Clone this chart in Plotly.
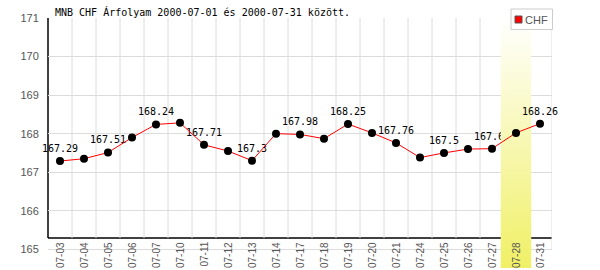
import plotly.graph_objects as go

# ---- data ----
dates = ['07-03', '07-04', '07-05', '07-06', '07-07', '07-10', '07-11', '07-12',
         '07-13', '07-14', '07-17', '07-18', '07-19', '07-20', '07-21', '07-24',
         '07-25', '07-26', '07-27', '07-28', '07-31']
values = [167.29, 167.35, 167.51, 167.90, 168.24, 168.28, 167.71, 167.55,
          167.30, 168.00, 167.98, 167.87, 168.25, 168.02, 167.76, 167.38,
          167.50, 167.60, 167.61, 168.02, 168.26]
y_ticks = [165, 166, 167, 168, 169, 170, 171]
highlight_date = '07-28'
series_name = 'CHF'
title_text = 'MNB CHF Árfolyam 2000-07-01 és 2000-07-31 között.'

# ---- layout constants ----
W, H = 600, 270
ML, MR, MT, MB = 48, 48, 18, 2
plot_h = H - MT - MB
px_per_unit = 38.55
y_top = max(y_ticks)
y_bot = y_top - plot_h / px_per_unit
axis_y = y_top - (238 - MT) / px_per_unit

GRID = '#dcdcdc'
TICK_COL = '#555555'
SANS = 'Liberation Sans'
MONO = 'DejaVu Sans Mono'

x = list(range(len(dates)))
hi = dates.index(highlight_date)
half = 0.635

fig = go.Figure()


def label_trace(idx):
    return go.Scatter(
        x=[x[i] for i in idx], y=[values[i] for i in idx],
        text=['%g' % values[i] for i in idx],
        mode='markers+text', textposition='top center',
        marker=dict(size=9, opacity=0),
        textfont=dict(family=MONO, size=10, color='black'),
        cliponaxis=False, hoverinfo='skip', showlegend=False)


lab_idx = list(range(0, len(dates), 2))
# labels left of the highlight band are drawn beneath it
fig.add_trace(label_trace([i for i in lab_idx if i < hi]))

# highlight band
fig.add_trace(go.Scatter(
    x=[hi - half, hi + half, hi + half, hi - half, hi - half],
    y=[y_bot, y_bot, y_top, y_top, y_bot],
    mode='none', fill='toself',
    fillgradient=dict(type='vertical',
                      colorscale=[[0, '#f0f066'], [1, '#ffffff']]),
    hoverinfo='skip', showlegend=False))

# labels right of the band are drawn over it
fig.add_trace(label_trace([i for i in lab_idx if i >= hi]))

# series
fig.add_trace(go.Scatter(
    x=x, y=values, mode='lines+markers', name=series_name,
    line=dict(color='red', width=1),
    marker=dict(color='black', size=8),
    hoverinfo='skip', showlegend=False))

shapes = []
for i in range(len(dates) - 1):
    shapes.append(dict(type='line', xref='x', yref='y', x0=i + 0.5, x1=i + 0.5,
                       y0=axis_y, y1=y_top, line=dict(color=GRID, width=1),
                       layer='below'))
shapes.append(dict(type='line', xref='x', yref='y', x0=len(dates) - 0.5,
                   x1=len(dates) - 0.5, y0=min(y_ticks), y1=y_top,
                   line=dict(color=GRID, width=1), layer='below'))
# axis lines
shapes.append(dict(type='line', xref='paper', yref='y', x0=0, x1=1,
                   y0=axis_y, y1=axis_y, line=dict(color='black', width=1.5),
                   layer='below'))
shapes.append(dict(type='line', xref='paper', yref='y', x0=0, x1=0,
                   y0=axis_y, y1=y_top, line=dict(color='black', width=1.5),
                   layer='below'))


def px_x(p):
    return (p - ML) / (W - ML - MR)


def px_y(p):
    return 1 - (p - MT) / plot_h


# legend box
shapes.append(dict(type='rect', xref='paper', yref='paper',
                   x0=px_x(511), x1=px_x(552.5), y0=px_y(29.5), y1=px_y(9),
                   fillcolor='white', line=dict(color='#cccccc', width=1),
                   layer='above'))
shapes.append(dict(type='rect', xref='paper', yref='paper',
                   x0=px_x(515), x1=px_x(522), y0=px_y(23), y1=px_y(16),
                   fillcolor='red', line=dict(color='#555555', width=1),
                   layer='above'))

annotations = []
for i, d in enumerate(dates):
    annotations.append(dict(x=i, y=axis_y, xref='x', yref='y', text=d,
                            textangle=-90, showarrow=False, xanchor='center',
                            yanchor='top', yshift=-2,
                            font=dict(family=SANS, size=10, color=TICK_COL)))
annotations.append(dict(x=px_x(53), y=px_y(12), xref='paper', yref='paper',
                        text=title_text, showarrow=False, xanchor='left',
                        yanchor='middle',
                        font=dict(family=MONO, size=10, color='black')))
annotations.append(dict(x=px_x(523), y=px_y(20), xref='paper', yref='paper',
                        text=series_name, showarrow=False, xanchor='left',
                        yanchor='middle',
                        font=dict(family='Liberation Sans Narrow, Liberation Sans',
                                  size=11, color=TICK_COL)))

fig.update_layout(
    width=W, height=H,
    margin=dict(l=ML, r=MR, t=MT, b=MB, pad=0),
    paper_bgcolor='white', plot_bgcolor='white',
    showlegend=False,
    shapes=shapes, annotations=annotations,
    xaxis=dict(range=[-0.5, len(dates) - 0.5], showgrid=False, zeroline=False,
               showticklabels=False, showline=False, ticks='', fixedrange=True),
    yaxis=dict(range=[y_bot, y_top], tickvals=y_ticks, showgrid=True,
               gridcolor=GRID, gridwidth=1, zeroline=False, showline=False,
               ticks='outside', ticklen=6, tickcolor='rgba(0,0,0,0)',
               tickfont=dict(family=SANS, size=11, color=TICK_COL),
               fixedrange=True),
)

fig.write_html('out.html', config={'displayModeBar': False})
